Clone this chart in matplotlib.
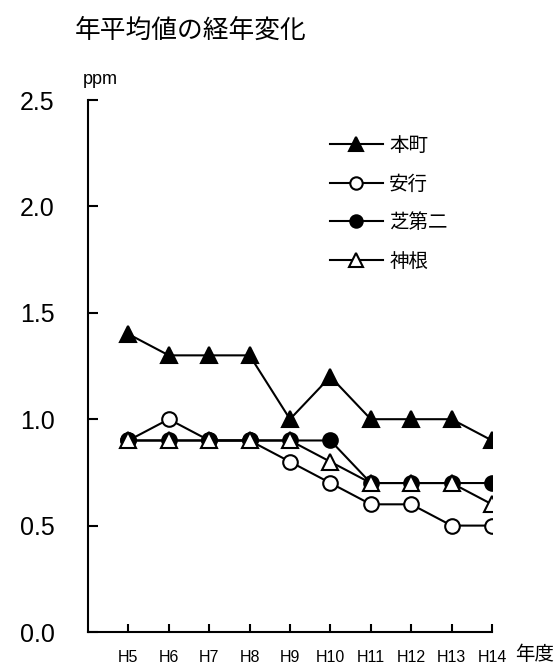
import matplotlib
matplotlib.use("Agg")
import matplotlib.pyplot as plt

plt.rcParams['font.family'] = ['Liberation Sans', 'Noto Sans CJK JP', 'DejaVu Sans']

# 年平均値 (ppm)
years = ["H5", "H6", "H7", "H8", "H9", "H10", "H11", "H12", "H13", "H14"]
honcho = [1.4, 1.3, 1.3, 1.3, 1.0, 1.2, 1.0, 1.0, 1.0, 0.9]
angyo = [0.9, 1.0, 0.9, 0.9, 0.8, 0.7, 0.6, 0.6, 0.5, 0.5]
shiba2 = [0.9, 0.9, 0.9, 0.9, 0.9, 0.9, 0.7, 0.7, 0.7, 0.7]
kamine = [0.9, 0.9, 0.9, 0.9, 0.9, 0.8, 0.7, 0.7, 0.7, 0.6]

W, H = 560, 664
fig = plt.figure(figsize=(W / 100, H / 100), dpi=100)
ax = fig.add_axes([88 / W, 1 - 632 / H, (492 - 88) / W, (632 - 100) / H])

x = range(len(years))
lw = 1.5
ax.plot(x, honcho, color="black", lw=lw, marker="^", ms=11.5,
        mfc="black", mec="black", mew=1.5, label="本町")
ax.plot(x, angyo, color="black", lw=lw, marker="o", ms=10.5,
        mfc="white", mec="black", mew=1.5, label="安行")
ax.plot(x, shiba2, color="black", lw=lw, marker="o", ms=10.5,
        mfc="black", mec="black", mew=1.5, label="芝第二")
ax.plot(x, kamine, color="black", lw=lw, marker="^", ms=11.5,
        mfc="white", mec="black", mew=1.5, label="神根")

ax.set_xlim(-1, len(years) - 1)
ax.set_ylim(0, 2.5)
ax.set_xticks(list(x))
ax.set_xticklabels(years, fontsize=11.5, family=['Liberation Sans Narrow', 'Liberation Sans'])
ax.set_yticks([0, 0.5, 1.0, 1.5, 2.0, 2.5])
ax.set_yticklabels([f"{v:.1f}" for v in [0, 0.5, 1.0, 1.5, 2.0, 2.5]], fontsize=18)
ax.tick_params(axis="x", direction="in", length=6, width=1.5, pad=13)
ax.tick_params(axis="y", direction="in", length=7, width=1.5, pad=24)
ax.spines["top"].set_visible(False)
ax.spines["right"].set_visible(False)
for s in ["left", "bottom"]:
    ax.spines[s].set_linewidth(1.5)
ax.spines["left"].set_capstyle("projecting")

fig.text(83 / W, 1 - 80 / H, "ppm", fontsize=13, va="center", ha="left")
fig.text(515 / W, 1 - 654 / H, "年度", fontsize=14, va="center", ha="left",
         family=['Noto Sans CJK JP'])
fig.text(75 / W, 1 - 31 / H, "年平均値の経年変化", fontsize=18.5, va="center", ha="left",
         family=['Noto Sans CJK JP'])

leg = ax.legend(loc="upper left", bbox_to_anchor=(330 / W, 1 - 135 / H),
                bbox_transform=fig.transFigure, frameon=False, fontsize=14,
                handlelength=2.7, handletextpad=0.35, labelspacing=0.9,
                markerscale=0.85, borderpad=0, borderaxespad=0)
for t in leg.get_texts():
    t.set_family(['Noto Sans CJK JP'])

fig.savefig("out.png", dpi=100)
